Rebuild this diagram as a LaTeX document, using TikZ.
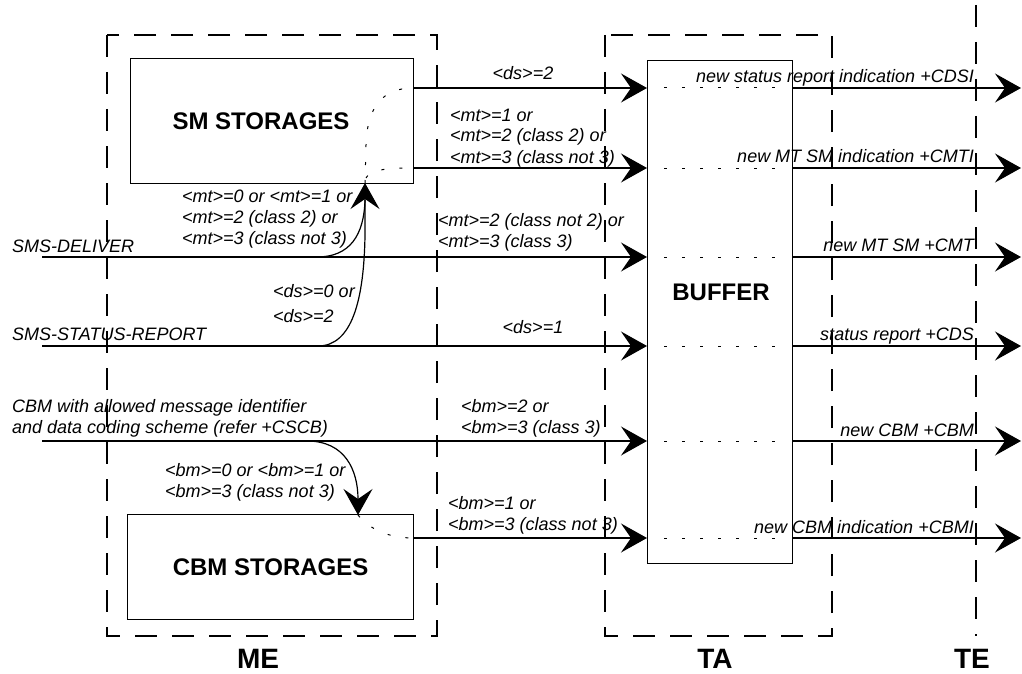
\documentclass[tikz,border=0pt]{standalone}
\usepackage{fontspec}
\setmainfont{Liberation Sans}
\usetikzlibrary{arrows.meta}
\begin{document}
\begin{tikzpicture}[x=1pt,y=-1pt,
  zone/.style={draw, line width=1.1pt, dash pattern=on 22pt off 15pt},
  boxs/.style={draw, line width=1.2pt, inner sep=0pt, font=\fontsize{24}{28}\selectfont\bfseries},
  flow/.style={line width=1.2pt, -{Stealth[length=26pt,width=29pt,inset=10pt]}},
  plain/.style={line width=1.2pt},
  dotl/.style={line width=1pt, dash pattern=on 3pt off 15pt},
  lab/.style={font=\fontsize{18}{21}\selectfont\itshape, align=left, inner sep=0pt},
  zlab/.style={font=\fontsize{28}{32}\selectfont\bfseries, inner sep=0pt, anchor=base}]
\useasboundingbox (0,0) rectangle (1022,674);
% zones
\draw[zone] (107,35) rectangle (437,636);
\draw[zone] (605,35) rectangle (832,636);
\coordinate (tetop) at (976,5);
\coordinate (tebot) at (976,636);
\draw[zone] (tetop) -- (tebot);
% boxes
\node[boxs, minimum width=283pt, minimum height=125pt, anchor=north west] (sm) at (130,58) {};
\node[font=\fontsize{24}{28}\selectfont\bfseries, inner sep=0pt] (smt) at (261,121) {SM STORAGES};
\node[boxs, minimum width=286pt, minimum height=105pt, anchor=north west] (cbm) at (127,514) {CBM STORAGES};
\node[boxs, minimum width=145pt, minimum height=503pt, anchor=north west] (buf) at (647,60) {};
\node[font=\fontsize{24}{28}\selectfont\bfseries, inner sep=0pt] (buft) at (721,292) {BUFFER};
% coordinates
\coordinate (s1) at (413,88);  \coordinate (b1) at (647,88);
\coordinate (s2) at (413,168); \coordinate (b2) at (647,168);
\coordinate (i3) at (42,257);  \coordinate (b3) at (647,257);
\coordinate (i4) at (42,346);  \coordinate (b4) at (647,346);
\coordinate (i5) at (42,441);  \coordinate (b5) at (647,441);
\coordinate (s6) at (413,538); \coordinate (b6) at (647,538);
\coordinate (k3) at (317,257);
\coordinate (k4) at (318,346);
\coordinate (k5) at (307,441);
\coordinate (smin) at (365,183);
\coordinate (cbin) at (358,515);
\foreach \y/\n in {88/1,168/2,257/3,346/4,441/5,538/6}{
  \coordinate (r\n) at (792,\y);
  \coordinate (t\n) at (1021,\y);
  \coordinate (d\n) at (664,\y);
  \coordinate (e\n) at (785,\y);
}
% flows into buffer
\draw[flow] (s1) -- (b1);
\draw[flow] (s2) -- (b2);
\draw[flow] (i3) -- (b3);
\draw[flow] (i4) -- (b4);
\draw[flow] (i5) -- (b5);
\draw[flow] (s6) -- (b6);
% dotted lines inside buffer and output arrows
\foreach \n in {1,...,6}{
  \draw[dotl] (d\n) -- (e\n);
  \draw[flow] (r\n) -- (t\n);
}
% curves into SM storage
\draw[plain] (k3) .. controls (350,257) and (364,235) .. (365,200);
\draw[flow] (k4) .. controls (352,346) and (364,300) .. (365,235) -- (smin);
% curve into CBM storage
\draw[flow] (k5) .. controls (345,441) and (358,470) .. (cbin);
% dotted routing inside storages
\draw[dotl] (smin) -- (366,145) .. controls (367,108) and (382,88) .. (s1);
\draw[dotl] (366,178) .. controls (370,170) and (385,168) .. (s2);
\draw[dotl] (cbin) .. controls (370,530) and (390,538) .. (s6);
% labels (base = baseline of last line)
\node[lab, anchor=base] (l1) at (523,80) {<ds>=2};
\node[lab, anchor=base west] (l2) at (450,163) {<mt>=1 or\\<mt>=2 (class 2) or\\<mt>=3 (class not 3)};
\node[lab, anchor=base west] (l3) at (182,244) {<mt>=0 or <mt>=1 or\\<mt>=2 (class 2) or\\<mt>=3 (class not 3)};
\node[lab, anchor=base west] (l4) at (12,252) {SMS-DELIVER};
\node[lab, anchor=base west] (l5) at (438,247) {<mt>=2 (class not 2) or\\<mt>=3 (class 3)};
\node[lab, anchor=base west] (l6) at (273,322) {<ds>=0 or\\[4pt]<ds>=2};
\node[lab, anchor=base west] (l7) at (12,340) {SMS-STATUS-REPORT};
\node[lab, anchor=base] (l8) at (533,333) {<ds>=1};
\node[lab, anchor=base west] (l9) at (12,433) {CBM with allowed message identifier\\and data coding scheme (refer +CSCB)};
\node[lab, anchor=base west] (l10) at (461,433) {<bm>=2 or\\<bm>=3 (class 3)};
\node[lab, anchor=base west] (l11) at (165,497) {<bm>=0 or <bm>=1 or\\<bm>=3 (class not 3)};
\node[lab, anchor=base west] (l12) at (448,530) {<bm>=1 or\\<bm>=3 (class not 3)};
\node[lab, anchor=base east] (o1) at (974,83) {new status report indication +CDSI};
\node[lab, anchor=base east] (o2) at (974,162) {new MT SM indication +CMTI};
\node[lab, anchor=base east] (o3) at (974,251) {new MT SM +CMT};
\node[lab, anchor=base east] (o4) at (974,340) {status report +CDS};
\node[lab, anchor=base east] (o5) at (974,436) {new CBM +CBM};
\node[lab, anchor=base east] (o6) at (974,533) {new CBM indication +CBMI};
\node[zlab] (me) at (258,668) {ME};
\node[zlab] (ta) at (715,668) {TA};
\node[zlab] (te) at (972,668) {TE};
\end{tikzpicture}
\end{document}
